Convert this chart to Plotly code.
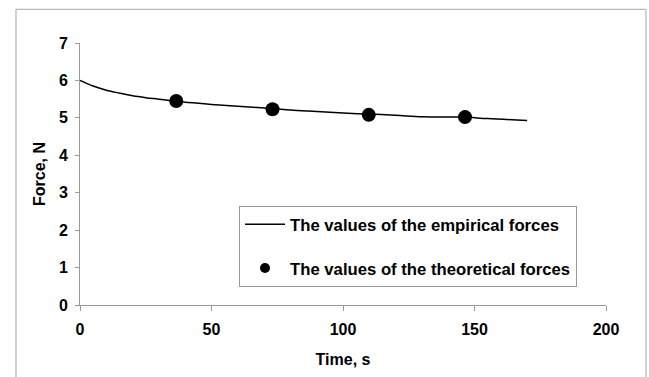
import plotly.graph_objects as go

# Empirical force curve
t_emp = [0, 5, 10, 15, 20, 25, 30, 37, 45, 50, 60, 73, 80, 90, 100, 110, 120, 130, 140, 146, 155, 170]
f_emp = [6.0, 5.85, 5.74, 5.66, 5.59, 5.54, 5.50, 5.44, 5.39, 5.36, 5.31, 5.25, 5.21, 5.17, 5.13, 5.10, 5.07, 5.03, 5.02, 5.02, 4.98, 4.93]

# Theoretical force points
t_theo = [36.6, 73.2, 109.8, 146.4]
f_theo = [5.45, 5.23, 5.08, 5.02]

x_ticks = [0, 50, 100, 150, 200]
y_ticks = [0, 1, 2, 3, 4, 5, 6, 7]

font_family = "Liberation Sans, Arial, sans-serif"
axis_grey = "#9a9a9a"

fig = go.Figure()
fig.add_trace(go.Scatter(
    x=t_emp, y=f_emp, mode="lines",
    line=dict(color="black", width=1.5, shape="spline"),
    name="<b>The values of the empirical forces</b>",
    legendgroup="a",
))
fig.add_trace(go.Scatter(
    x=t_theo, y=f_theo, mode="markers",
    marker=dict(color="black", size=14),
    showlegend=False,
    legendgroup="b",
))
# legend entry for the theoretical points (smaller legend symbol)
fig.add_trace(go.Scatter(
    x=[None], y=[None], mode="markers",
    marker=dict(color="black", size=10),
    name="<b>The values of the theoretical forces</b>",
    legendgroup="b",
))

fig.update_layout(
    width=649, height=377,
    margin=dict(l=80, r=43, t=43, b=72),
    paper_bgcolor="white", plot_bgcolor="white",
    font=dict(family=font_family, color="black", size=16),
    showlegend=True,
    legend=dict(
        x=0.3023, y=0.378, xanchor="left", yanchor="top",
        bordercolor=axis_grey, borderwidth=1,
        bgcolor="white",
        font=dict(size=16.7, family=font_family, color="black"),
        tracegroupgap=19,
        traceorder="grouped",
        itemwidth=40,
    ),
    xaxis=dict(
        range=[0, 200], tickvals=x_ticks, ticktext=[f"<b>{v}</b>" for v in x_ticks],
        showgrid=False, zeroline=False, showline=True, linecolor=axis_grey, linewidth=1,
        ticks="outside", tickcolor=axis_grey, ticklen=5, ticklabelstandoff=5,
        tickfont=dict(size=16, family=font_family),
        automargin=False,
        title=dict(text="<b>Time, s</b>", font=dict(size=16, family=font_family), standoff=16),
    ),
    yaxis=dict(
        range=[0, 7], tickvals=y_ticks, ticktext=[f"<b>{v}</b>" for v in y_ticks],
        showgrid=False, zeroline=False, showline=True, linecolor=axis_grey, linewidth=1,
        ticks="outside", tickcolor=axis_grey, ticklen=4, ticklabelstandoff=4,
        tickfont=dict(size=16, family=font_family),
        automargin=False,
        title=dict(text="<b>Force, N</b>", font=dict(size=16, family=font_family), standoff=9),
    ),
    shapes=[
        dict(type="rect", xref="paper", yref="paper",
             x0=-0.1217, x1=1.076, y0=-0.30, y1=1.1286,
             line=dict(color="#a6a6a6", width=1), layer="below"),
    ],
)

fig.write_html(
    "out.html",
    config={"displayModeBar": False},
    post_script="document.body.style.margin='0';",
)
